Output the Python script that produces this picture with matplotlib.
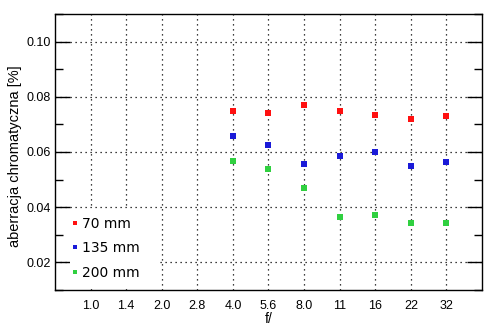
import numpy as np
import matplotlib
matplotlib.use("Agg")
import matplotlib.pyplot as plt
from matplotlib.ticker import MultipleLocator
from matplotlib.patches import Rectangle

plt.rcParams["font.family"] = ["Liberation Sans", "DejaVu Sans"]

# przysłony (kategorie na osi x)
apertures = ["1.0", "1.4", "2.0", "2.8", "4.0", "5.6", "8.0", "11", "16", "22", "32"]
measured = ["4.0", "5.6", "8.0", "11", "16", "22", "32"]

ca_70 = [0.0748, 0.0741, 0.0770, 0.0748, 0.0733, 0.0719, 0.0730]
ca_135 = [0.0657, 0.0624, 0.0555, 0.0584, 0.0599, 0.0548, 0.0563]
ca_200 = [0.0566, 0.0537, 0.0468, 0.0363, 0.0370, 0.0344, 0.0344]

series = [
    ("70 mm", ca_70, "#ff1010"),
    ("135 mm", ca_135, "#1a1ad8"),
    ("200 mm", ca_200, "#30d040"),
]

fig = plt.figure(figsize=(4.94, 3.31), dpi=100)
ax = fig.add_axes([0.1113, 0.1239, 0.8644, 0.8338])

pos = {a: i for i, a in enumerate(apertures)}
x_meas = [pos[a] for a in measured]

for label, vals, col in series:
    ax.plot(x_meas, vals, linestyle="none", marker="s", markersize=4.3,
            color=col, markeredgewidth=0, label=label, zorder=3)

ax.set_xlim(-1, 11)
ax.set_ylim(0.01, 0.11)
ax.set_xticks(range(len(apertures)))
ax.set_xticklabels(apertures)
ax.yaxis.set_minor_locator(MultipleLocator(0.01))
ax.set_yticks([0.02, 0.04, 0.06, 0.08, 0.10])
ax.set_yticklabels(["0.02", "0.04", "0.06", "0.08", "0.10"])

ax.tick_params(axis="x", length=0, pad=7, labelsize=9)
ax.tick_params(axis="y", which="major", direction="in", length=10.8, width=1,
               right=True, pad=3, labelsize=9)
ax.tick_params(axis="y", which="minor", direction="in", length=5.8, width=1,
               right=True)

ax.grid(True, which="major", color="black", linestyle=(0, (1, 3)), linewidth=0.9)
for s in ax.spines.values():
    s.set_linewidth(1)

ax.set_xlabel("f/", fontsize=10, labelpad=0)
ax.set_ylabel("aberracja chromatyczna [%]", fontsize=10.5)
ax.yaxis.set_label_coords(-0.077, 0.485)

# białe tło pod legendą (zasłania siatkę)
ax.add_patch(Rectangle((0.035, 0.004), 0.206, 0.289, transform=ax.transAxes,
                       facecolor="white", edgecolor="none", zorder=2.5))

leg = ax.legend(loc="lower left", bbox_to_anchor=(0.04, 0.038), frameon=False,
                prop={"family": "DejaVu Sans", "size": 10},
                handlelength=0.4, handletextpad=0.3,
                markerscale=0.8, borderaxespad=0, borderpad=0,
                labelspacing=0.75)
leg.set_zorder(4)

fig.savefig("out.png", dpi=100)
